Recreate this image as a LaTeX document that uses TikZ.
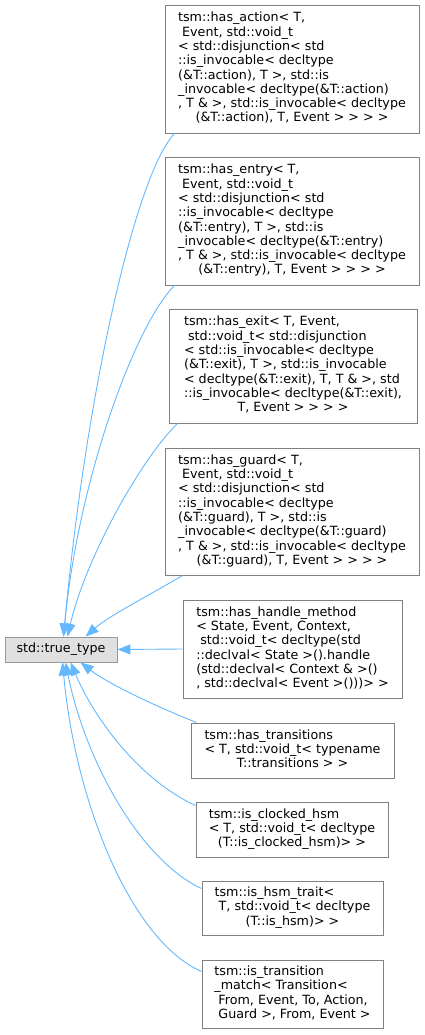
\documentclass[tikz,border=0pt]{standalone}
\usepackage{fontspec}
\usetikzlibrary{arrows.meta,calc}
\newfontfamily\dejavu{DejaVu Sans}
\definecolor{edgeblue}{HTML}{63B8FF}
\definecolor{boxgray}{HTML}{808080}
\definecolor{basegray}{HTML}{999999}
\definecolor{basefill}{HTML}{E0E0E0}
\newcommand{\lastln}[1]{\multicolumn{1}{@{}c@{}}{#1}}
\newcommand{\boxfont}{\dejavu\fontsize{12.7}{14.3}\selectfont}
\begin{document}
\begin{tikzpicture}[x=1pt,y=-1pt,
  cls/.style={draw=boxgray, fill=white, line width=0.9pt, inner sep=0pt, font=\boxfont, align=center},
  base/.style={draw=basegray, fill=basefill, line width=0.9pt, inner sep=0pt, font=\boxfont},
  edge/.style={draw=edgeblue, line width=0.9pt, -{Triangle[length=13pt,width=10pt]}, fill=none}
]
\useasboundingbox (0,0) rectangle (425,1035);
\renewcommand{\arraystretch}{1}

\node[base, minimum width=112pt, minimum height=25pt] (tt) at (61,649.5) {std::true\_type};

\node[cls, minimum width=254pt, minimum height=128pt] (n1) at (292,69) {\begin{tabular}{@{}l@{}}
tsm::has\_action< T,\\
\ Event, std::void\_t\\
< std::disjunction< std\\
::is\_invocable< decltype\\
(\&T::action), T >, std::is\\
\_invocable< decltype(\&T::action)\\
, T \& >, std::is\_invocable< decltype\\
\lastln{(\&T::action), T, Event > > > >}
\end{tabular}};

\node[cls, minimum width=254pt, minimum height=128pt] (n2) at (292,221) {\begin{tabular}{@{}l@{}}
tsm::has\_entry< T,\\
\ Event, std::void\_t\\
< std::disjunction< std\\
::is\_invocable< decltype\\
(\&T::entry), T >, std::is\\
\_invocable< decltype(\&T::entry)\\
, T \& >, std::is\_invocable< decltype\\
\lastln{(\&T::entry), T, Event > > > >}
\end{tabular}};

\node[cls, minimum width=248pt, minimum height=114pt] (n3) at (293,366) {\begin{tabular}{@{}l@{}}
tsm::has\_exit< T, Event,\\
\ std::void\_t< std::disjunction\\
< std::is\_invocable< decltype\\
(\&T::exit), T >, std::is\_invocable\\
< decltype(\&T::exit), T, T \& >, std\\
::is\_invocable< decltype(\&T::exit),\\
\lastln{T, Event > > > >}
\end{tabular}};

\node[cls, minimum width=254pt, minimum height=127pt] (n4) at (292,511.5) {\begin{tabular}{@{}l@{}}
tsm::has\_guard< T,\\
\ Event, std::void\_t\\
< std::disjunction< std\\
::is\_invocable< decltype\\
(\&T::guard), T >, std::is\\
\_invocable< decltype(\&T::guard)\\
, T \& >, std::is\_invocable< decltype\\
\lastln{(\&T::guard), T, Event > > > >}
\end{tabular}};

\node[cls, minimum width=219pt, minimum height=98pt] (n5) at (292.5,649) {\begin{tabular}{@{}l@{}}
tsm::has\_handle\_method\\
< State, Event, Context,\\
\ std::void\_t< decltype(std\\
::declval< State >().handle\\
(std::declval< Context \& >()\\
\lastln{, std::declval< Event >()))> >}
\end{tabular}};

\node[cls, minimum width=203pt, minimum height=55pt] (n6) at (292.5,750.5) {\begin{tabular}{@{}l@{}}
tsm::has\_transitions\\
< T, std::void\_t< typename\\
\lastln{T::transitions > >}
\end{tabular}};

\node[cls, minimum width=192pt, minimum height=55pt] (n7) at (292,829.5) {\begin{tabular}{@{}l@{}}
tsm::is\_clocked\_hsm\\
< T, std::void\_t< decltype\\
\lastln{(T::is\_clocked\_hsm)> >}
\end{tabular}};

\node[cls, minimum width=181pt, minimum height=54pt] (n8) at (292.5,908) {\begin{tabular}{@{}l@{}}
tsm::is\_hsm\_trait<\\
\ T, std::void\_t< decltype\\
\lastln{(T::is\_hsm)> >}
\end{tabular}};

\node[cls, minimum width=181pt, minimum height=68pt] (n9) at (292.5,994) {\begin{tabular}{@{}l@{}}
tsm::is\_transition\\
\_match< Transition<\\
\ From, Event, To, Action,\\
\lastln{\ Guard >, From, Event >}
\end{tabular}};

\draw[edge] ($(n1.south west)+(10,0)$) .. controls (135,175) and (85,400) .. ($(tt.north west)+(59,0)$);
\draw[edge] ($(n2.south west)+(10,0)$) .. controls (135,325) and (78,480) .. ($(tt.north west)+(59,0)$);
\draw[edge] ($(n3.south west)+(9,0)$) .. controls (140,460) and (85,560) .. ($(tt.north west)+(63,0)$);
\draw[edge] ($(n4.south west)+(18,0)$) .. controls (150,595) and (110,615) .. ($(tt.north west)+(81,0)$);
\draw[edge] (n5.west) -- (tt.east);
\draw[edge] ($(n6.north west)+(6,0)$) .. controls (160,708) and (110,685) .. ($(tt.south west)+(76,0)$);
\draw[edge] ($(n7.north west)+(0,4)$) .. controls (140,780) and (95,720) .. ($(tt.south west)+(66,0)$);
\draw[edge] ($(n8.north west)+(0,8)$) .. controls (140,860) and (85,760) .. ($(tt.south west)+(61,0)$);
\draw[edge] ($(n9.north west)+(0,12)$) .. controls (130,940) and (75,800) .. ($(tt.south west)+(58,0)$);
\end{tikzpicture}
\end{document}
